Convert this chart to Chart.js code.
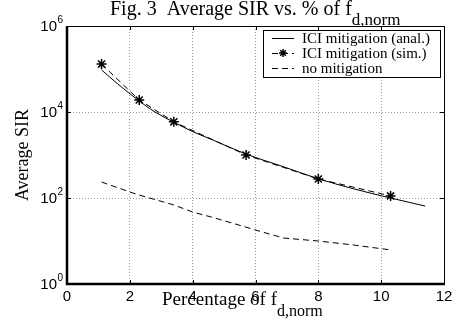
<!DOCTYPE html>
<html>
<head>
<meta charset="utf-8">
<script src="https://cdn.jsdelivr.net/npm/chart.js@4"></script>
<style>
  html, body { margin: 0; padding: 0; background: #fff; }
  #wrap { width: 454px; height: 323px; }
</style>
</head>
<body>
<div id="wrap"><canvas id="fig3" width="454" height="323"></canvas></div>
<script>
// datos
const xAnal = [1.1, 1.6, 2.3, 2.8, 3.4, 4.0, 4.6, 5.7, 6.9, 8.0, 9.1, 10.3, 11.4];
const sirAnal = [95000, 46000, 18000, 10000, 5800, 3500, 2300, 1050, 530, 280, 165, 100, 65];
const xSim = [1.1, 2.3, 3.4, 5.7, 8.0, 10.3];
const sirSim = [130000, 19000, 5900, 1000, 277, 112];
const xNoMit = [1.1, 2.0, 2.3, 3.4, 4.0, 4.6, 5.7, 6.0, 6.9, 8.0, 9.1, 10.3];
const sirNoMit = [235, 138, 117, 69, 47, 36, 21, 18, 11.7, 10, 8.1, 6.2];
const xTicks = [0, 2, 4, 6, 8, 10, 12];
const yExp = [0, 2, 4, 6];

const pts = (xs, ys) => xs.map((x, i) => ({ x: x, y: ys[i] }));

const serif = '"Liberation Serif", "DejaVu Serif", serif';
const sans = '"Liberation Sans", Arial, sans-serif';

// dibuja marco, ticks, etiquetas, titulo y leyenda al estilo MATLAB
const decor = {
  id: 'decor',
  afterDraw(chart) {
    const ctx = chart.ctx;
    const a = chart.chartArea;
    const xs = chart.scales.x, ys = chart.scales.y;
    ctx.save();

    // marco
    ctx.strokeStyle = '#000';
    ctx.lineWidth = 1;
    ctx.strokeRect(a.left + 0.5, a.top + 0.5, a.right - a.left, a.bottom - a.top);
    ctx.lineWidth = 2.5;
    ctx.beginPath();
    ctx.moveTo(a.left, a.top); ctx.lineTo(a.left, a.bottom); ctx.lineTo(a.right + 1, a.bottom);
    ctx.stroke();

    // ticks hacia adentro
    ctx.lineWidth = 1;
    xTicks.forEach(v => {
      const px = Math.round(xs.getPixelForValue(v)) + 0.5;
      ctx.beginPath();
      ctx.moveTo(px, a.bottom); ctx.lineTo(px, a.bottom - 4);
      ctx.moveTo(px, a.top); ctx.lineTo(px, a.top + 4);
      ctx.stroke();
    });
    yExp.forEach(e => {
      const py = Math.round(ys.getPixelForValue(Math.pow(10, e))) + 0.5;
      ctx.beginPath();
      ctx.moveTo(a.left, py); ctx.lineTo(a.left + 4, py);
      ctx.moveTo(a.right, py); ctx.lineTo(a.right - 4, py);
      ctx.stroke();
    });

    // etiquetas eje x
    ctx.fillStyle = '#000';
    ctx.font = '15px ' + sans;
    ctx.textAlign = 'center';
    ctx.textBaseline = 'top';
    xTicks.forEach(v => ctx.fillText(String(v), xs.getPixelForValue(v), a.bottom + 5));

    // etiquetas eje y con superindice
    yExp.forEach(e => {
      const py = ys.getPixelForValue(Math.pow(10, e));
      ctx.textAlign = 'right';
      ctx.textBaseline = 'middle';
      ctx.font = '10px ' + sans;
      ctx.fillText(String(e), a.left - 4, py - 6);
      ctx.font = '15px ' + sans;
      ctx.fillText('10', a.left - 10, py + 1);
    });

    // texto con subindice
    const drawSub = (main, sub, x0, y, size, subSize, dy) => {
      ctx.textBaseline = 'alphabetic';
      ctx.textAlign = 'left';
      ctx.font = size + 'px ' + serif;
      const w1 = ctx.measureText(main).width;
      ctx.fillText(main, x0, y);
      ctx.font = subSize + 'px ' + serif;
      ctx.fillText(sub, x0 + w1, y + dy);
    };
    drawSub('Fig. 3  Average SIR vs. % of f', 'd,norm', 110, 15, 20, 17, 10);
    drawSub('Percentage of f', 'd,norm', 162, 305, 19, 16, 11);

    // etiqueta eje y
    ctx.save();
    ctx.translate(23, 155);
    ctx.rotate(-Math.PI / 2);
    ctx.font = '18px ' + serif;
    ctx.textAlign = 'center';
    ctx.textBaseline = 'middle';
    ctx.fillText('Average SIR', 0, 0);
    ctx.restore();

    // leyenda
    const lx = 263, ly = 30, lw = 177, lh = 47;
    ctx.fillStyle = '#fff';
    ctx.fillRect(lx, ly, lw, lh);
    ctx.strokeStyle = '#000';
    ctx.lineWidth = 1;
    ctx.strokeRect(lx + 0.5, ly + 0.5, lw, lh);
    const items = chart.data.datasets;
    items.forEach((ds, i) => {
      const y = ly + 8 + i * 15;
      ctx.setLineDash(ds.borderDash || []);
      ctx.strokeStyle = '#000';
      ctx.lineWidth = 1;
      ctx.beginPath();
      ctx.moveTo(lx + 9, y + 0.5); ctx.lineTo(lx + 31, y + 0.5);
      ctx.stroke();
      ctx.setLineDash([]);
      if (ds.pointStyle === 'star') {
        const cx = lx + 20, r = 4;
        ctx.lineWidth = 1.5;
        ctx.beginPath();
        for (let k = 0; k < 4; k++) {
          const t = k * Math.PI / 4;
          ctx.moveTo(cx - r * Math.cos(t), y - r * Math.sin(t));
          ctx.lineTo(cx + r * Math.cos(t), y + r * Math.sin(t));
        }
        ctx.stroke();
      }
      ctx.fillStyle = '#000';
      ctx.font = '15px ' + serif;
      ctx.textAlign = 'left';
      ctx.textBaseline = 'middle';
      ctx.fillText(ds.label, lx + 39, y + 1);
    });

    ctx.restore();
  }
};

new Chart(document.getElementById('fig3'), {
  type: 'line',
  data: {
    datasets: [
      {
        label: 'ICI mitigation (anal.)',
        data: pts(xAnal, sirAnal),
        borderColor: '#000',
        borderWidth: 1,
        pointRadius: 0,
        cubicInterpolationMode: 'monotone'
      },
      {
        label: 'ICI mitigation (sim.)',
        data: pts(xSim, sirSim),
        borderColor: '#000',
        borderWidth: 1,
        borderDash: [6, 4],
        pointStyle: 'star',
        pointRadius: 5,
        pointBorderWidth: 1.5,
        pointBorderColor: '#000',
        tension: 0
      },
      {
        label: 'no mitigation',
        data: pts(xNoMit, sirNoMit),
        borderColor: '#000',
        borderWidth: 1,
        borderDash: [6, 4],
        pointRadius: 0,
        tension: 0
      }
    ]
  },
  options: {
    responsive: false,
    animation: false,
    layout: { padding: { left: 67, right: 10, top: 26, bottom: 39 } },
    plugins: { legend: { display: false }, tooltip: { enabled: false }, title: { display: false } },
    scales: {
      x: {
        type: 'linear',
        min: 0, max: 12,
        afterBuildTicks: s => { s.ticks = xTicks.map(v => ({ value: v })); },
        ticks: { display: false },
        border: { display: false, dash: [1, 2] },
        grid: { drawTicks: false, color: '#999', lineWidth: 1, tickLength: 0 }
      },
      y: {
        type: 'logarithmic',
        min: 1, max: 1e6,
        afterBuildTicks: s => { s.ticks = yExp.map(e => ({ value: Math.pow(10, e) })); },
        ticks: { display: false },
        border: { display: false, dash: [1, 2] },
        grid: { drawTicks: false, color: '#999', lineWidth: 1, tickLength: 0 }
      }
    }
  },
  plugins: [decor]
});
</script>
</body>
</html>
